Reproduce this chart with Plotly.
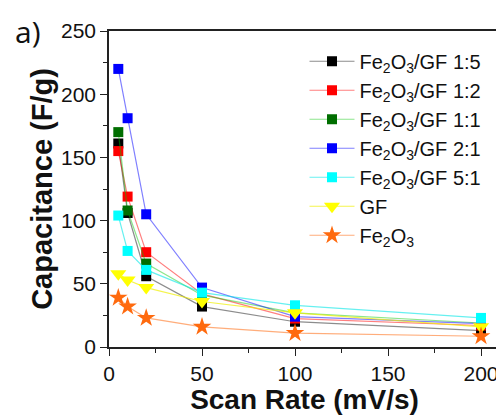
import plotly.graph_objects as go

scan_rate = [5, 10, 20, 50, 100, 200]
names = ["Fe<sub>2</sub>O<sub>3</sub>/GF 1:5", "Fe<sub>2</sub>O<sub>3</sub>/GF 1:2",
         "Fe<sub>2</sub>O<sub>3</sub>/GF 1:1", "Fe<sub>2</sub>O<sub>3</sub>/GF 2:1",
         "Fe<sub>2</sub>O<sub>3</sub>/GF 5:1", "GF", "Fe<sub>2</sub>O<sub>3</sub>"]
gf_1_5 = [161, 106, 56, 32, 20, 13]
gf_1_2 = [155, 119, 75, 42, 22.5, 17]
gf_1_1 = [170, 108, 66, 41, 27, 19]
gf_2_1 = [220, 181, 105, 47, 24, 18.5]
gf_5_1 = [104, 76, 61, 43, 33, 23]
gf = [58, 53, 47, 36, 27, 16]
fe2o3 = [39, 32, 23, 16, 11, 8.5]
series = [gf_1_5, gf_1_2, gf_1_1, gf_2_1, gf_5_1, gf, fe2o3]

colors = ["#000000", "#ff0000", "#006e00", "#0000ff", "#00ffff", "#ffff00", "#ff6a0e"]
line_colors = ["rgba(0,0,0,0.45)", "rgba(255,0,0,0.5)", "rgba(0,200,0,0.45)",
               "rgba(0,0,255,0.5)", "rgba(0,230,230,0.6)", "rgba(240,240,0,0.7)",
               "rgba(255,106,14,0.55)"]
symbols = ["square"] * 5 + ["triangle-down", "star"]
sizes = [10, 10, 10, 10, 10, 14, 14]

fig = go.Figure()
for n, y, c, lc, s, sz in zip(names, series, colors, line_colors, symbols, sizes):
    fig.add_trace(go.Scatter(
        x=scan_rate, y=y, name=n, mode="lines+markers",
        line=dict(color=lc, width=1.2),
        marker=dict(color=c, symbol=s, size=sz, line=dict(width=0)),
    ))

axis_common = dict(
    showline=True, linecolor="#222", linewidth=1.5, mirror=True,
    ticks="outside", ticklen=7, tickwidth=1.3, tickcolor="#222",
    showgrid=False, zeroline=False, automargin=False,
    tickfont=dict(family="Liberation Sans, Arial", size=21, color="#111"),
    minor=dict(ticks="outside", ticklen=4, tickwidth=1.2, tickcolor="#222", showgrid=False),
)

# page body has an 8px margin, so the figure is sized/offset to compensate
fig.update_layout(
    width=496, height=407,
    margin=dict(l=101, r=4, t=23, b=68),
    paper_bgcolor="white", plot_bgcolor="white",
    xaxis=dict(range=[0, 210.2], tick0=0, dtick=50,
               title=dict(text="<b>Scan Rate (mV/s)</b>", standoff=0,
                          font=dict(family="Liberation Sans, Arial", size=28, color="#111")),
               **axis_common),
    yaxis=dict(range=[0, 250], tick0=0, dtick=50,
               title=dict(text="<b>Capacitance (F/g)</b>", standoff=0,
                          font=dict(family="Liberation Sans, Arial", size=29, color="#111")),
               **axis_common),
    legend=dict(x=0.5, y=0.966, xanchor="left", yanchor="top",
                bgcolor="rgba(0,0,0,0)", itemwidth=45, tracegroupgap=0,
                font=dict(family="Liberation Sans, Arial", size=20, color="#111")),
    annotations=[dict(text="a)", x=-0.207, y=1.0, xref="paper", yref="paper",
                      xanchor="center", yanchor="middle", showarrow=False,
                      font=dict(family="Open Sans", size=30, color="#111"))],
)
fig.update_xaxes(minor=dict(dtick=25))
fig.update_yaxes(minor=dict(dtick=25))
fig.write_html("out.html")
